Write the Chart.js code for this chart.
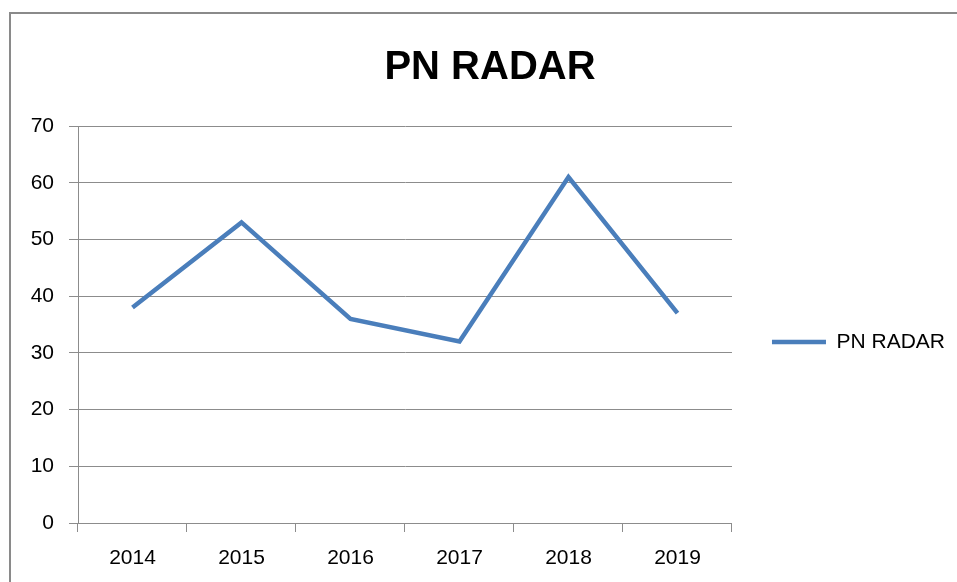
<!DOCTYPE html>
<html>
<head>
<meta charset="utf-8">
<script src="https://cdn.jsdelivr.net/npm/chart.js@4.4.1/dist/chart.umd.min.js"></script>
<style>
    html, body { margin: 0; padding: 0; background: #fff; overflow: hidden; }
    #marco {
        position: absolute; left: 9px; top: 12px;
        width: 1100px; height: 800px;
        border: 2px solid #8a8a8a;
    }
    #contenedor { position: absolute; left: 0; top: 0; width: 957px; height: 582px; }
</style>
</head>
<body>
<div id="marco"></div>
<div id="contenedor"><canvas id="grafica"></canvas></div>
<script>
const anios = ['2014', '2015', '2016', '2017', '2018', '2019'];
const valoresRadar = [38, 53, 36, 32, 61, 37];
const tituloGrafica = 'PN RADAR';
const nombreSerie = 'PN RADAR';
const ejeYMin = 0;
const ejeYMax = 70;
const ejeYPaso = 10;

const colorLinea = '#4a7ebb';
const colorRejilla = '#8c8c8c';
const fuente = "'Liberation Sans', Arial, sans-serif";

function dibujarGrafica() {
    const lienzo = document.getElementById('grafica');

    const configuracion = {
        type: 'line',
        data: {
            labels: anios,
            datasets: [{
                label: nombreSerie,
                data: valoresRadar,
                borderColor: colorLinea,
                backgroundColor: colorLinea,
                borderWidth: 4.5,
                pointRadius: 0,
                pointHoverRadius: 0,
                fill: false,
                tension: 0,
                borderJoinStyle: 'miter',
                borderCapStyle: 'butt'
            }]
        },
        options: {
            responsive: true,
            maintainAspectRatio: false,
            animation: false,
            layout: {
                padding: { left: 25, right: 2, top: 0, bottom: 13 }
            },
            plugins: {
                tooltip: { enabled: false },
                title: {
                    display: true,
                    text: tituloGrafica,
                    color: '#000',
                    font: { family: fuente, size: 40, weight: 'bold', lineHeight: 1.2 },
                    padding: { top: 44, bottom: 34 }
                },
                legend: {
                    display: true,
                    position: 'right',
                    align: 'center',
                    title: {
                        display: true,
                        text: ' ',
                        font: { size: 12, lineHeight: 1.2 },
                        padding: { top: 0, bottom: 100.6 }
                    },
                    labels: {
                        usePointStyle: true,
                        pointStyle: 'line',
                        pointStyleWidth: 54,
                        padding: 40,
                        color: '#000',
                        font: { family: fuente, size: 21 }
                    }
                }
            },
            scales: {
                x: {
                    offset: true,
                    grid: {
                        offset: true,
                        drawOnChartArea: false,
                        drawTicks: true,
                        tickLength: 9,
                        color: colorRejilla,
                        lineWidth: 1
                    },
                    border: { color: colorRejilla, width: 1 },
                    ticks: {
                        color: '#000',
                        padding: 14,
                        maxRotation: 0,
                        font: { family: fuente, size: 21 }
                    },
                    afterFit: (eje) => { eje.height = 46; }
                },
                y: {
                    min: ejeYMin,
                    max: ejeYMax,
                    grid: {
                        color: colorRejilla,
                        lineWidth: 1,
                        tickLength: 9
                    },
                    border: { color: colorRejilla, width: 1 },
                    ticks: {
                        stepSize: ejeYPaso,
                        color: '#000',
                        padding: 15,
                        font: { family: fuente, size: 21 }
                    },
                    afterFit: (eje) => { eje.width = 53; }
                }
            }
        }
    };

    new Chart(lienzo, configuracion);
}

document.addEventListener('DOMContentLoaded', () => {
    dibujarGrafica();
});
</script>
</body>
</html>
